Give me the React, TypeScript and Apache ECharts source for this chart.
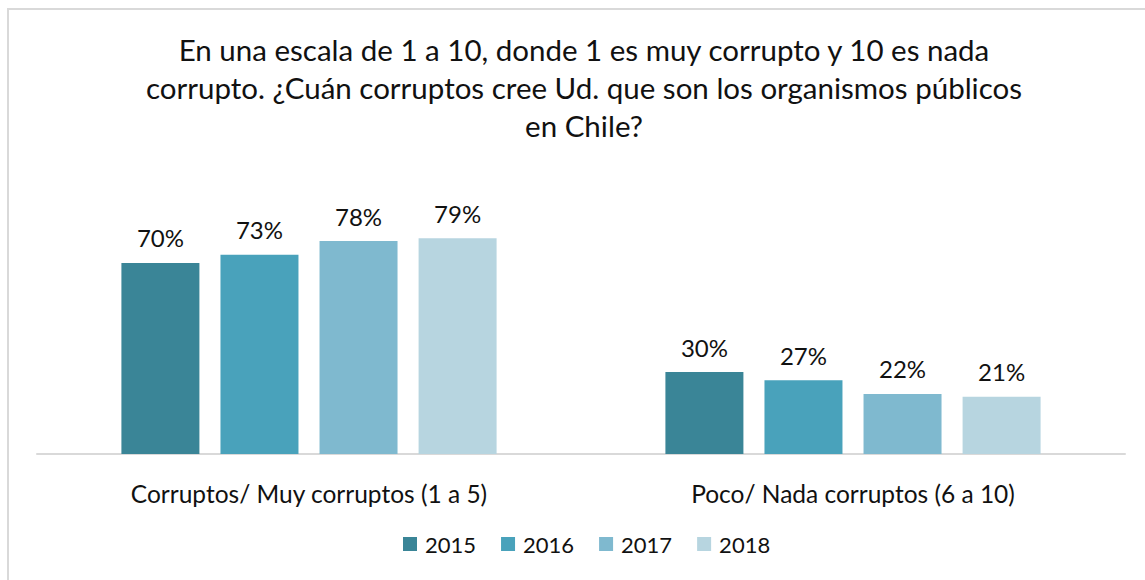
import React, { useEffect, useRef } from "react";
import * as echarts from "echarts";

const titleText =
  "En una escala de 1 a 10, donde 1 es muy corrupto y 10 es nada\ncorrupto. ¿Cuán corruptos cree Ud. que son los organismos públicos\nen Chile?";
const categories = ["Corruptos/ Muy corruptos (1 a 5)", "Poco/ Nada corruptos (6 a 10)"];
const years = ["2015", "2016", "2017", "2018"];
const values2015 = [70, 30];
const values2016 = [73, 27];
const values2017 = [78, 22];
const values2018 = [79, 21];
const seriesValues = [values2015, values2016, values2017, values2018];
const colors = ["#3a8597", "#49a2bb", "#7fb9cf", "#b7d5e0"];

const FONT = "Lato, 'Open Sans', sans-serif";

export default function App() {
  const ref = useRef<HTMLDivElement>(null);
  useEffect(() => {
    if (!ref.current) return;
    const chart = echarts.init(ref.current, null, { renderer: "svg" });
    chart.setOption({
      animation: false,
      backgroundColor: "#ffffff",
      textStyle: { fontFamily: FONT },
      title: {
        text: titleText,
        left: 579,
        top: 25,
        textAlign: "center",
        textStyle: {
          fontFamily: FONT,
          fontSize: 29.5,
          fontWeight: "normal",
          color: "#111111",
          lineHeight: 38,
        },
      },
      graphic: [
        {
          type: "rect",
          shape: { x: 8, y: 9, width: 1160, height: 600 },
          style: { fill: "none", stroke: "#d9d9d9", lineWidth: 2 },
          silent: true,
        },
      ],
      legend: {
        data: years,
        bottom: 20,
        left: 398,
        icon: "rect",
        itemWidth: 14,
        itemHeight: 14,
        itemGap: 25,
        textStyle: {
          fontFamily: FONT,
          fontSize: 22,
          color: "#111111",
          padding: [0, 0, 0, 3],
        },
      },
      grid: { left: 37, right: 20, top: 181, bottom: 126, containLabel: false },
      xAxis: {
        type: "category",
        data: categories,
        axisLine: { lineStyle: { color: "#d9d9d9", width: 2 } },
        axisTick: { show: false },
        axisLabel: { fontFamily: FONT, fontSize: 24.5, color: "#111111", margin: 27 },
      },
      yAxis: {
        type: "value",
        min: 0,
        max: 100,
        show: false,
        splitLine: { show: false },
      },
      series: years.map((y, i) => ({
        name: y,
        type: "bar",
        data: seriesValues[i],
        barWidth: 78,
        barGap: "27%",
        itemStyle: { color: colors[i] },
        label: {
          show: true,
          position: "top",
          distance: 13,
          formatter: "{c}%",
          fontFamily: FONT,
          fontSize: 24,
          color: "#111111",
        },
      })),
    });
    return () => chart.dispose();
  }, []);
  return (
    <div
      ref={ref}
      style={{ position: "fixed", left: 0, top: 0, width: 1145, height: 580 }}
    />
  );
}
